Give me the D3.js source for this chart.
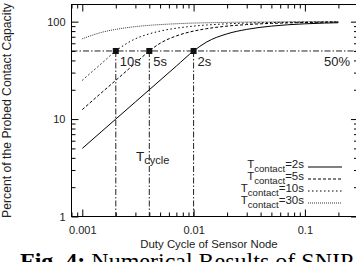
<!DOCTYPE html>
<html>
<head>
<meta charset="utf-8">
<script src="https://cdn.jsdelivr.net/npm/d3@7"></script>
<style>
  body { margin: 0; background: #fff; }
  svg { display: block; }
  text { font-family: "Liberation Sans", Arial, sans-serif; fill: #222; }
</style>
</head>
<body>
<div id="chart"></div>
<script>
// duty cycle samples and percent of probed contact capacity per T_contact
const duty = [0.001, 0.0015, 0.002, 0.003, 0.004, 0.005, 0.007, 0.01, 0.013, 0.02, 0.03, 0.05, 0.07, 0.1, 0.15, 0.2];
const pct2s = [5, 7.5, 10, 15, 20, 25, 35, 50, 61.5, 75, 83.3, 90, 92.9, 95, 96.7, 97.5];
const pct5s = [12.5, 18.8, 25, 37.5, 50, 60, 71.4, 80, 84.6, 90, 93.3, 96, 97.1, 98, 98.7, 99];
const pct10s = [25, 37.5, 50, 66.7, 75, 80, 85.7, 90, 92.3, 95, 96.7, 98, 98.6, 99, 99.3, 99.5];
const pct30s = [66.7, 77.8, 83.3, 88.9, 91.7, 93.3, 95.2, 96.7, 97.4, 98.3, 98.9, 99.3, 99.5, 99.7, 99.8, 99.8];

const seriesNames = ["2s", "5s", "10s", "30s"];
const seriesValues = [pct2s, pct5s, pct10s, pct30s];

// T_cycle markers where each curve hits 50%
const cycleDuty = [0.002, 0.004, 0.01];
const cycleLabels = ["10s", "5s", "2s"];
const halfLevel = 50;

const xMajor = [0.001, 0.01, 0.1];
const xMajorLabels = ["0.001", "0.01", "0.1"];
const xMinor = [0.0008, 0.0009, 0.002, 0.003, 0.004, 0.005, 0.006, 0.007, 0.008, 0.009,
                0.02, 0.03, 0.04, 0.05, 0.06, 0.07, 0.08, 0.09, 0.2, 0.3];
const yMajor = [1, 10, 100];
const yMajorLabels = ["1", "10", "100"];
const yMinor = [2, 3, 4, 5, 6, 7, 8, 9, 20, 30, 40, 50, 60, 70, 80, 90];

const W = 356, H = 262;
const pLeft = 71.5, pRight = 358, pTop = 4.5, pBottom = 216.5;

const svg = d3.select("#chart").append("svg")
    .attr("width", W)
    .attr("height", H);

const x = d3.scaleLog().domain([0.0008, 0.3]).range([pLeft, pRight]);
const y = d3.scaleLog().domain([1, 150]).range([pBottom, pTop]);

const dashes = {
    "2s": null,
    "5s": "3,2",
    "10s": "1.5,2.5",
    "30s": "1,1"
};
const widths = { "2s": 1, "5s": 1, "10s": 1, "30s": 0.8 };

// axes: ticks point inward on all four sides
function styleAxis(g) {
    g.select(".domain").remove();
    g.selectAll("line").attr("stroke", "#000").attr("stroke-width", 1);
}
function styleLabels(g) {
    g.selectAll("text")
        .style("font-size", "11px")
        .style("font-family", "Liberation Sans, Arial, sans-serif")
        .attr("fill", "#222");
}

svg.append("g").attr("transform", `translate(0,${pBottom})`)
    .call(d3.axisBottom(x).tickValues(xMajor).tickSize(-7).tickFormat((d, i) => xMajorLabels[i]))
    .call(styleAxis)
    .call(styleLabels)
    .call(g => g.selectAll("text").attr("y", 17).attr("dy", null));
svg.append("g").attr("transform", `translate(0,${pBottom})`)
    .call(d3.axisBottom(x).tickValues(xMinor).tickSize(-4).tickFormat(""))
    .call(styleAxis);
svg.append("g").attr("transform", `translate(0,${pTop})`)
    .call(d3.axisTop(x).tickValues(xMajor).tickSize(-7).tickFormat(""))
    .call(styleAxis);
svg.append("g").attr("transform", `translate(0,${pTop})`)
    .call(d3.axisTop(x).tickValues(xMinor).tickSize(-4).tickFormat(""))
    .call(styleAxis);

svg.append("g").attr("transform", `translate(${pLeft},0)`)
    .call(d3.axisLeft(y).tickValues(yMajor).tickSize(-7).tickFormat((d, i) => yMajorLabels[i]))
    .call(styleAxis)
    .call(styleLabels)
    .call(g => g.selectAll("text").attr("x", -6));
svg.append("g").attr("transform", `translate(${pLeft},0)`)
    .call(d3.axisLeft(y).tickValues(yMinor).tickSize(-4).tickFormat(""))
    .call(styleAxis);
svg.append("g").attr("transform", `translate(${pRight},0)`)
    .call(d3.axisRight(y).tickValues(yMajor).tickSize(-7).tickFormat(""))
    .call(styleAxis);
svg.append("g").attr("transform", `translate(${pRight},0)`)
    .call(d3.axisRight(y).tickValues(yMinor).tickSize(-4).tickFormat(""))
    .call(styleAxis);

svg.append("rect")
    .attr("x", pLeft).attr("y", pTop)
    .attr("width", pRight - pLeft).attr("height", pBottom - pTop)
    .attr("fill", "none").attr("stroke", "#000").attr("stroke-width", 1);

// 50% reference and T_cycle drop lines
const refDash = "6,2,1.5,2";
svg.append("line")
    .attr("x1", pLeft).attr("x2", pRight)
    .attr("y1", y(halfLevel)).attr("y2", y(halfLevel))
    .attr("stroke", "#222").attr("stroke-dasharray", refDash);

svg.append("g").selectAll("line")
    .data(cycleDuty)
    .join("line")
    .attr("x1", d => x(d)).attr("x2", d => x(d))
    .attr("y1", y(halfLevel)).attr("y2", pBottom)
    .attr("stroke", "#222").attr("stroke-dasharray", refDash);

// curves
const line = d3.line()
    .x(d => x(d[0]))
    .y(d => y(d[1]))
    .curve(d3.curveMonotoneX);

svg.append("g").selectAll("path")
    .data(seriesNames)
    .join("path")
    .attr("d", (n, i) => line(duty.map((d, j) => [d, seriesValues[i][j]])))
    .attr("fill", "none")
    .attr("stroke", "#000")
    .attr("stroke-width", n => widths[n])
    .attr("stroke-dasharray", n => dashes[n]);

// markers and labels
svg.append("g").selectAll("rect")
    .data(cycleDuty)
    .join("rect")
    .attr("x", d => x(d) - 3).attr("y", y(halfLevel) - 3)
    .attr("width", 6).attr("height", 6)
    .attr("fill", "#111");

svg.append("g").selectAll("text")
    .data(cycleDuty)
    .join("text")
    .attr("x", d => x(d) + 4)
    .attr("y", y(halfLevel) + 15)
    .style("font-size", "13px")
    .text((d, i) => cycleLabels[i]);

svg.append("text")
    .attr("x", 324)
    .attr("y", y(halfLevel) + 15)
    .style("font-size", "13px")
    .text(halfLevel + "%");

const tcyc = svg.append("text")
    .attr("x", 136).attr("y", 161)
    .style("font-size", "13.5px");
tcyc.append("tspan").text("T");
tcyc.append("tspan").attr("dy", 3).style("font-size", "11px").text("cycle");

// legend
const legendTop = 168, legendStep = 12;
const leg = svg.append("g");
seriesNames.forEach((n, i) => {
    const yy = legendTop + i * legendStep;
    const t = leg.append("text")
        .attr("x", 304).attr("y", yy)
        .attr("text-anchor", "end")
        .style("font-size", "11.5px");
    t.append("tspan").text("T");
    t.append("tspan").attr("dy", 4).style("font-size", "9.6px").text("contact");
    t.append("tspan").attr("dy", -4).text("=" + n);
    leg.append("line")
        .attr("x1", 308).attr("x2", 342)
        .attr("y1", yy - 1).attr("y2", yy - 1)
        .attr("stroke", "#000")
        .attr("stroke-width", widths[n])
        .attr("stroke-dasharray", dashes[n]);
});

// axis titles
svg.append("text")
    .attr("x", 209)
    .attr("y", 248)
    .attr("text-anchor", "middle")
    .style("font-size", "11.4px")
    .text("Duty Cycle of Sensor Node");

svg.append("text")
    .attr("transform", `translate(10.5,${(pTop + pBottom) / 2}) rotate(-90)`)
    .attr("text-anchor", "middle")
    .style("font-size", "12.2px")
    .text("Percent of the Probed Contact Capacity");

// figure caption, cropped at the bottom edge
const cap = svg.append("text")
    .attr("x", 20).attr("y", 268.5)
    .style("font-family", "Liberation Serif, Times New Roman, serif")
    .style("font-size", "24px")
    .style("fill", "#000");
cap.append("tspan").style("font-weight", "bold").text("Fig. 4:");
cap.append("tspan").text(" Numerical Results of SNIP");
</script>
</body>
</html>
